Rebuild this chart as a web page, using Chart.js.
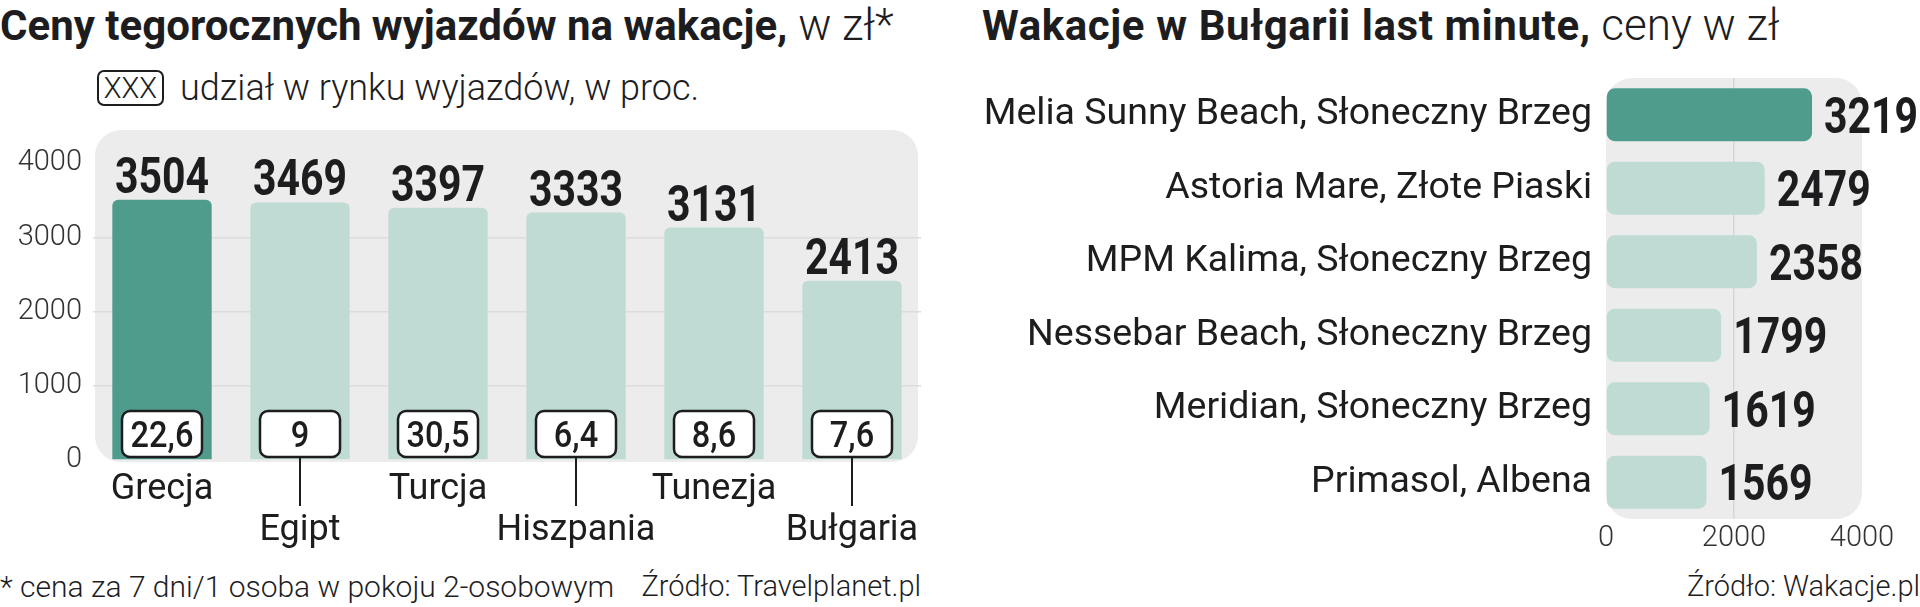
<!DOCTYPE html>
<html>
<head>
<meta charset="utf-8">
<script src="https://cdn.jsdelivr.net/npm/chart.js@4/dist/chart.umd.min.js"></script>
<style>
    body { margin: 0; background: #fff; width: 1920px; height: 607px; overflow: hidden; position: relative; font-family: Roboto, sans-serif; color: #1d1d1f; }
    .box { position: absolute; top: 0; width: 960px; height: 607px; }
    .txt { position: absolute; white-space: nowrap; line-height: 1; }
    .b { font-weight: 700; font-size: 42px; }
    .l { font-weight: 300; }
    .tl { font-weight: 300; font-size: 44px; }
    .legend-box { position: absolute; left: 97px; top: 70px; width: 63px; height: 32px; border: 2px solid #1d1d1f; border-radius: 7px; font-weight: 300; font-size: 29px; text-align: center; line-height: 32px; }
</style>
</head>
<body>
<div class="txt" style="left:0; top:3px;"><span class="b">Ceny tegorocznych wyjazdów na wakacje,</span><span class="tl"> w zł*</span></div>
<div class="legend-box">XXX</div>
<div class="txt l" style="left:180px; top:70px; font-size:36px;">udział w rynku wyjazdów, w proc.</div>
<div class="txt l" style="left:0; top:572px; font-size:30px;">* cena za 7 dni/1 osoba w pokoju 2-osobowym</div>
<div class="txt l" style="right:999px; top:572px; font-size:29px;">Źródło: Travelplanet.pl</div>

<div class="txt" style="left:982px; top:3px;"><span class="b" style="letter-spacing:0.6px">Wakacje w Bułgarii last minute,</span><span class="tl"> ceny w zł</span></div>
<div class="txt l" style="right:0; top:572px; font-size:29px;">Źródło: Wakacje.pl</div>

<div class="box" style="left:0"><canvas id="leftChart"></canvas></div>
<div class="box" style="left:960px"><canvas id="rightChart"></canvas></div>

<script>
// lewy wykres
const countries = ['Grecja', 'Egipt', 'Turcja', 'Hiszpania', 'Tunezja', 'Bułgaria'];
const prices = [3504, 3469, 3397, 3333, 3131, 2413];
const shares = [22.6, 9, 30.5, 6.4, 8.6, 7.6];
const priceTicks = [0, 1000, 2000, 3000, 4000];

// prawy wykres
const hotels = [
    'Melia Sunny Beach, Słoneczny Brzeg',
    'Astoria Mare, Złote Piaski',
    'MPM Kalima, Słoneczny Brzeg',
    'Nessebar Beach, Słoneczny Brzeg',
    'Meridian, Słoneczny Brzeg',
    'Primasol, Albena'
];
const hotelPrices = [3219, 2479, 2358, 1799, 1619, 1569];
const hotelTicks = [0, 2000, 4000];

const DARK = '#4f9b8c';
const LIGHT = '#c0dbd4';
const PANEL = '#ececec';
const INK = '#1d1d1f';

function roundRect(ctx, x, y, w, h, r) {
    ctx.beginPath();
    ctx.roundRect(x, y, w, h, r);
}

function drawText(ctx, text, x, y, font, align, sx) {
    ctx.save();
    ctx.translate(x, y);
    ctx.scale(sx, 1);
    ctx.font = font;
    ctx.textAlign = align;
    ctx.textBaseline = 'alphabetic';
    ctx.fillStyle = INK;
    ctx.fillText(text, 0, 0);
    ctx.restore();
}

const leftDecor = {
    id: 'leftDecor',
    beforeDraw(chart) {
        const { ctx, chartArea: a } = chart;
        ctx.save();
        ctx.fillStyle = PANEL;
        roundRect(ctx, a.left + 2, a.top - 33, a.right - a.left - 5, a.bottom - a.top + 35, 26);
        ctx.fill();
        ctx.restore();
    },
    afterDatasetsDraw(chart) {
        const { ctx, chartArea: a } = chart;
        const bars = chart.getDatasetMeta(0).data;
        bars.forEach((bar, i) => {
            drawText(ctx, String(prices[i]), bar.x, bar.y - 7, 'bold 50px Roboto', 'center', 0.82);

            // ramka z udziałem
            const bw = 80, bh = 46;
            const top = a.bottom - 3 - bh;
            ctx.save();
            ctx.fillStyle = '#fff';
            ctx.strokeStyle = INK;
            ctx.lineWidth = 2.5;
            roundRect(ctx, bar.x - bw / 2, top, bw, bh, 8);
            ctx.fill();
            ctx.stroke();
            ctx.restore();
            drawText(ctx, String(shares[i]).replace('.', ','), bar.x, top + bh / 2 + 13, '500 37px Roboto', 'center', 0.88);

            // podpisy kategorii, co drugi niżej z kreską
            if (i % 2 === 1) {
                ctx.save();
                ctx.strokeStyle = INK;
                ctx.lineWidth = 2;
                ctx.beginPath();
                ctx.moveTo(bar.x, a.bottom - 3);
                ctx.lineTo(bar.x, a.bottom + 46);
                ctx.stroke();
                ctx.restore();
                drawText(ctx, countries[i], bar.x, a.bottom + 80, '400 36px Roboto', 'center', 1);
            } else {
                drawText(ctx, countries[i], bar.x, a.bottom + 39, '400 36px Roboto', 'center', 1);
            }
        });
    }
};

const rightDecor = {
    id: 'rightDecor',
    beforeDraw(chart) {
        const { ctx, chartArea: a } = chart;
        ctx.save();
        ctx.fillStyle = PANEL;
        roundRect(ctx, a.left, a.top, a.right - a.left, a.bottom - a.top, 26);
        ctx.fill();
        ctx.restore();
    },
    afterDatasetsDraw(chart) {
        const { ctx } = chart;
        chart.getDatasetMeta(0).data.forEach((bar, i) => {
            drawText(ctx, String(hotelPrices[i]), bar.x + 12, bar.y + 18, 'bold 50px Roboto', 'left', 0.82);
        });
    }
};

new Chart(document.getElementById('leftChart'), {
    type: 'bar',
    data: {
        labels: countries,
        datasets: [{
            data: prices,
            backgroundColor: prices.map((v, i) => i === 0 ? DARK : LIGHT),
            borderRadius: { topLeft: 6, topRight: 6 },
            borderSkipped: 'start',
            barPercentage: 0.72,
            categoryPercentage: 1
        }]
    },
    options: {
        responsive: true,
        maintainAspectRatio: false,
        animation: false,
        layout: { padding: { top: 163, bottom: 147, right: 39, left: 0 } },
        plugins: { legend: { display: false }, tooltip: { enabled: false } },
        scales: {
            x: { display: false },
            y: {
                min: 0,
                max: 4000,
                afterBuildTicks: s => { s.ticks = priceTicks.map(v => ({ value: v })); },
                afterFit: s => { s.width = 93; },
                border: { display: false },
                grid: {
                    drawTicks: false,
                    lineWidth: 1.5,
                    color: c => (c.tick.value === 0 || c.tick.value === 4000) ? 'transparent' : '#dcdcdc'
                },
                ticks: {
                    padding: 11,
                    color: '#333',
                    font: { family: 'Roboto', size: 29, weight: 300 },
                    callback: v => String(v)
                }
            }
        }
    },
    plugins: [leftDecor]
});

new Chart(document.getElementById('rightChart'), {
    type: 'bar',
    data: {
        labels: hotels,
        datasets: [{
            data: hotelPrices,
            backgroundColor: hotelPrices.map((v, i) => i === 0 ? DARK : LIGHT),
            borderRadius: 8,
            borderSkipped: false,
            barPercentage: 0.72,
            categoryPercentage: 1
        }]
    },
    options: {
        indexAxis: 'y',
        responsive: true,
        maintainAspectRatio: false,
        animation: false,
        layout: { padding: { top: 78, bottom: 48, right: 58, left: 0 } },
        plugins: { legend: { display: false }, tooltip: { enabled: false } },
        scales: {
            x: {
                min: 0,
                max: 4000,
                afterBuildTicks: s => { s.ticks = hotelTicks.map(v => ({ value: v })); },
                afterFit: s => { s.height = 40; },
                border: { display: false },
                grid: {
                    drawTicks: false,
                    lineWidth: 1.5,
                    color: c => c.tick.value === 2000 ? '#d6d6d6' : 'transparent'
                },
                ticks: {
                    padding: 2,
                    color: '#333',
                    maxRotation: 0,
                    font: { family: 'Roboto', size: 29, weight: 300 },
                    callback: v => String(v)
                }
            },
            y: {
                afterFit: s => { s.width = 646; },
                border: { display: false },
                grid: { display: false, drawTicks: false },
                ticks: {
                    padding: 14,
                    color: INK,
                    font: { family: 'Roboto', size: 37.5, weight: 400 }
                }
            }
        }
    },
    plugins: [rightDecor]
});
</script>
</body>
</html>
